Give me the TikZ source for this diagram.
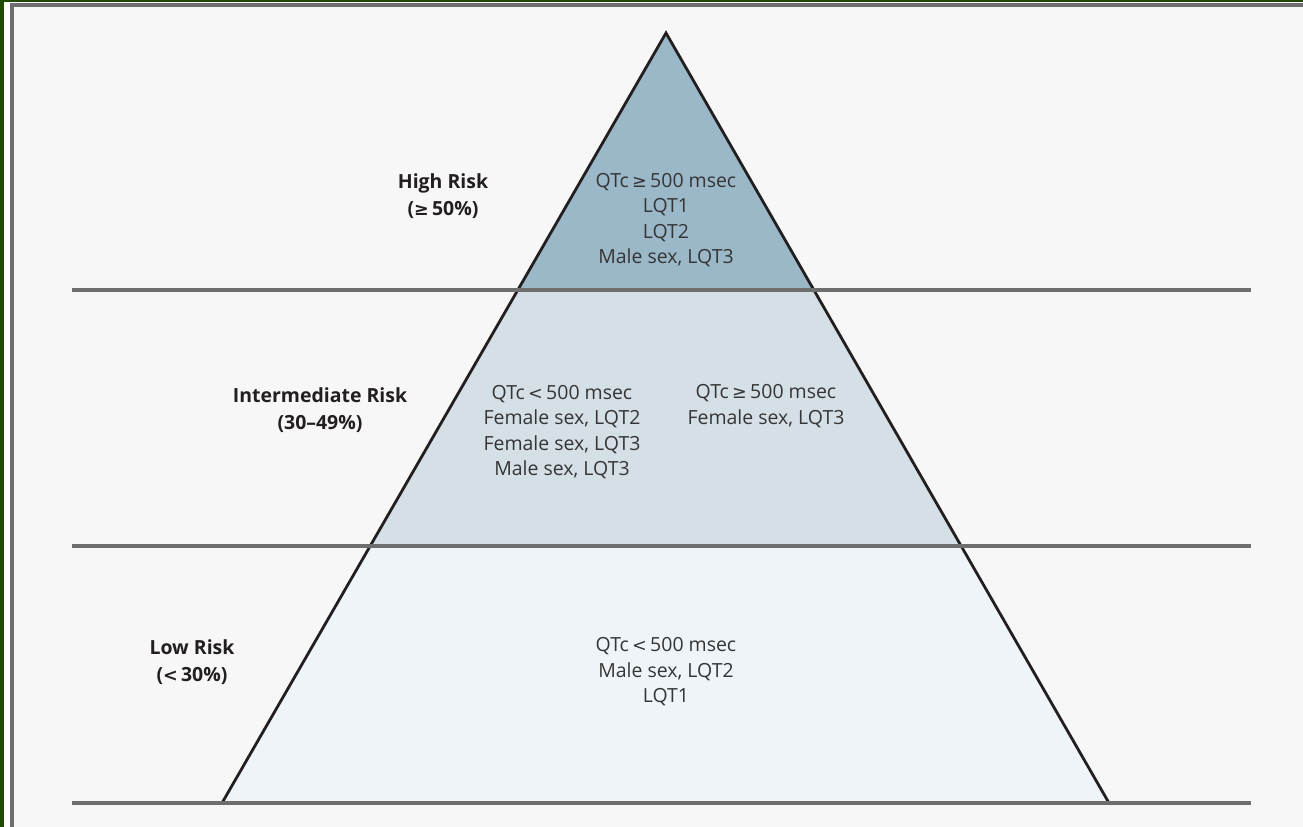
\documentclass[tikz,border=0pt]{standalone}
\usepackage{fontspec}
\setmainfont{Open Sans}
\newfontfamily\symfont{DejaVu Sans}
\newcommand{\myge}{{\symfont\fontsize{13.2}{13.2}\selectfont ≥}}
\newcommand{\mylt}{{\symfont\fontsize{13.2}{13.2}\selectfont <}}
\definecolor{bgc}{HTML}{F7F7F7}
\definecolor{greenc}{HTML}{1F4A00}
\definecolor{framec}{HTML}{6E6E6E}
\definecolor{topc}{HTML}{9BB8C9}
\definecolor{midc}{HTML}{D4DFE6}
\definecolor{lowc}{HTML}{EEF4F8}
\definecolor{edgec}{HTML}{231F20}
\definecolor{txtc}{HTML}{353535}
\begin{document}
\begin{tikzpicture}[x=0.75pt,y=-0.75pt,
  body/.style={align=center,text=txtc,inner sep=0pt,font=\fontsize{14.6}{19.1}\selectfont},
  label/.style={align=center,text=edgec,inner sep=0pt,font=\fontsize{14.6}{19.8}\selectfont\bfseries},
  rule/.style={draw=framec,line width=2.8pt},
  edge/.style={draw=edgec,line width=2.1pt,line join=miter}]
\useasboundingbox (0,0) rectangle (1303,827);
\fill[bgc] (0,0) rectangle (1303,827);
\fill[greenc] (0,0) rectangle (4,827);
\fill[greenc] (0,0) rectangle (1303,2);
\fill[white] (4,2) rectangle (10,827);
\fill[white] (4,2) rectangle (1303,3);
\fill[framec] (10,3) rectangle (14,827);
\fill[framec] (10,3) rectangle (1303,7);
\coordinate (apex) at (666,33);
\coordinate (bl) at (222,803);
\coordinate (br) at (1109,803);
\begin{scope}
  \clip (apex) -- (bl) -- (br) -- cycle;
  \fill[topc] (0,0) rectangle (1303,290);
  \fill[midc] (0,290) rectangle (1303,546);
  \fill[lowc] (0,546) rectangle (1303,810);
\end{scope}
\draw[edge] (apex) -- (bl) -- (br) -- cycle;
\coordinate (l1a) at (72,290); \coordinate (l1b) at (1251,290);
\coordinate (l2a) at (72,546); \coordinate (l2b) at (1251,546);
\coordinate (l3a) at (72,803); \coordinate (l3b) at (1251,803);
\draw[rule] (l1a) -- (l1b);
\draw[rule] (l2a) -- (l2b);
\draw[rule] (l3a) -- (l3b);
\node[label] (hr) at (443,196) {High Risk\\(\myge\,50\%)};
\node[label] (ir) at (320,410) {Intermediate Risk\\(30–49\%)};
\node[label] (lr) at (192,662) {Low Risk\\(\mylt\,30\%)};
\node[body] (ht) at (666,220) {QTc\,\myge\,500 msec\\LQT1\\LQT2\\Male sex, LQT3};
\node[body] (it1) at (562,432) {QTc\,\mylt\,500 msec\\Female sex, LQT2\\Female sex, LQT3\\Male sex, LQT3};
\node[body] (it2) at (766,406) {QTc\,\myge\,500 msec\\Female sex, LQT3};
\node[body] (lt) at (666,672) {QTc\,\mylt\,500 msec\\Male sex, LQT2\\LQT1};
\end{tikzpicture}
\end{document}
